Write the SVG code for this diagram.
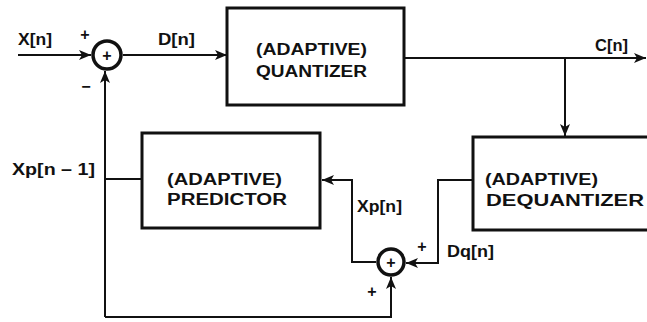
<svg xmlns="http://www.w3.org/2000/svg" width="647" height="322" viewBox="0 0 647 322">
<defs>
<marker id="arr" viewBox="0 0 12 10" refX="12" refY="5" markerWidth="12" markerHeight="10" markerUnits="userSpaceOnUse" orient="auto">
<path d="M0,0 L12,5 L0,10 L3,5 Z" fill="#111"/>
</marker>
</defs>
<style>
.box{fill:#fff;stroke:#111;stroke-width:3}
.sum{fill:#fff;stroke:#111;stroke-width:3.5}
.ln{fill:none;stroke:#111;stroke-width:2}
.t{font-family:"Liberation Sans",Arial,sans-serif;font-weight:bold;font-size:17px;fill:#111}
.bt{font-family:"Liberation Sans",Arial,sans-serif;font-weight:bold;font-size:16px;fill:#111}
.sg{font-family:"Liberation Sans",Arial,sans-serif;font-weight:bold;font-size:16px;fill:#111;text-anchor:middle}
</style>
<rect width="647" height="322" fill="#fff"/>
<g id="connectors">
<path class="ln" d="M18,55 L91,55" marker-end="url(#arr)"/>
<path class="ln" d="M123,55 L227,55" marker-end="url(#arr)"/>
<path class="ln" d="M404,58 L646,58" marker-end="url(#arr)"/>
<path class="ln" d="M565,58 L565,136" marker-end="url(#arr)"/>
<path class="ln" d="M473,180 L438,180 L438,263 L406,263" marker-end="url(#arr)"/>
<path class="ln" d="M376,262 L352,262 L352,180 L322,180" marker-end="url(#arr)"/>
<path class="ln" d="M142,179 L105,179"/>
<path class="ln" d="M105,317 L105,71" marker-end="url(#arr)"/>
<path class="ln" d="M105,317 L391,317 L391,277" marker-end="url(#arr)"/>
</g>
<g id="sum1">
<circle class="sum" cx="107" cy="55" r="14"/>
<text class="sg" x="107" y="61">+</text>
<text class="sg" x="85" y="40">+</text>
<text class="sg" x="86" y="92">−</text>
</g>
<g id="quantizer">
<rect class="box" x="227" y="8" width="177" height="97"/>
<text class="bt" x="256" y="55" textLength="111" lengthAdjust="spacingAndGlyphs">(ADAPTIVE)</text>
<text class="bt" x="256" y="77" textLength="111" lengthAdjust="spacingAndGlyphs">QUANTIZER</text>
</g>
<g id="dequantizer">
<rect class="box" x="473" y="137" width="185" height="93"/>
<text class="bt" x="485" y="185" textLength="113" lengthAdjust="spacingAndGlyphs">(ADAPTIVE)</text>
<text class="bt" x="486" y="206" textLength="158" lengthAdjust="spacingAndGlyphs">DEQUANTIZER</text>
</g>
<g id="predictor">
<rect class="box" x="142" y="133" width="178" height="95"/>
<text class="bt" x="167" y="185" textLength="115" lengthAdjust="spacingAndGlyphs">(ADAPTIVE)</text>
<text class="bt" x="167" y="205" textLength="120" lengthAdjust="spacingAndGlyphs">PREDICTOR</text>
</g>
<g id="sum2">
<circle class="sum" cx="391" cy="262" r="13"/>
<text class="sg" x="391" y="268">+</text>
<text class="sg" x="422" y="252">+</text>
<text class="sg" x="372" y="297">+</text>
</g>
<g id="labels">
<text class="t" x="18" y="45" textLength="34" lengthAdjust="spacingAndGlyphs">X[n]</text>
<text class="t" x="158" y="45" textLength="37" lengthAdjust="spacingAndGlyphs">D[n]</text>
<text class="t" x="595" y="51" textLength="33" lengthAdjust="spacingAndGlyphs">C[n]</text>
<text class="t" x="12" y="175" textLength="83" lengthAdjust="spacingAndGlyphs">Xp[n – 1]</text>
<text class="t" x="357" y="212" textLength="45" lengthAdjust="spacingAndGlyphs">Xp[n]</text>
<text class="t" x="447" y="257" textLength="47" lengthAdjust="spacingAndGlyphs">Dq[n]</text>
</g>
</svg>
